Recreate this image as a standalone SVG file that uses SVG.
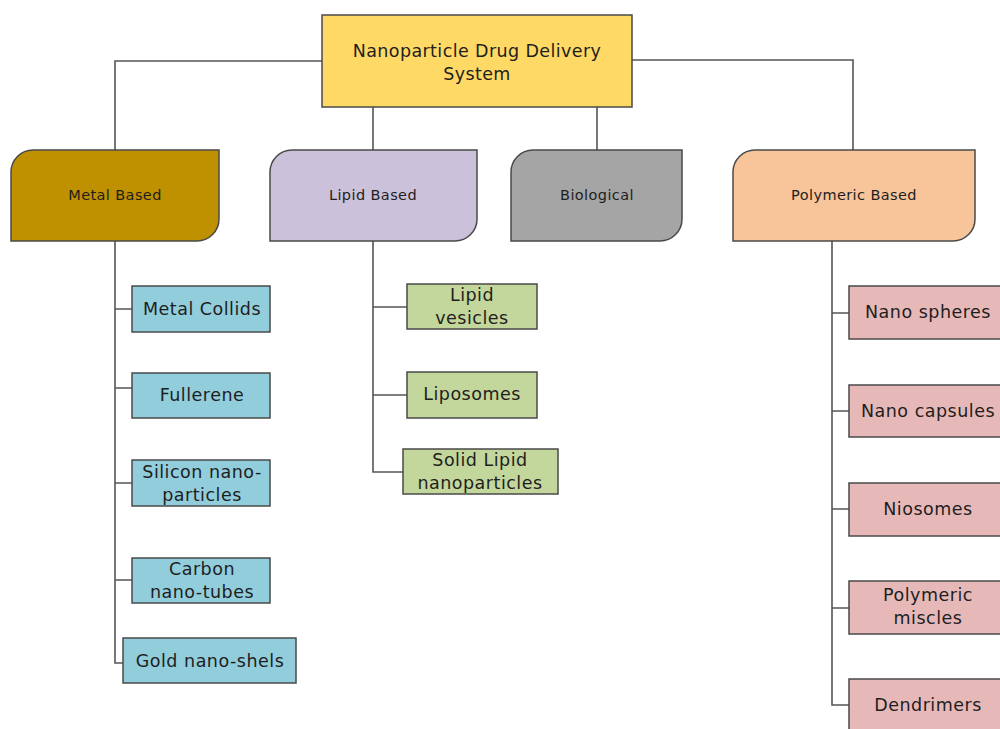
<svg xmlns="http://www.w3.org/2000/svg" width="1000" height="729" viewBox="0 0 1000 729">
<style>
text{font-family:"DejaVu Sans","Open Sans",sans-serif;fill:#1e1e1e;text-anchor:middle;dominant-baseline:central}
.cat{font-size:14.5px;letter-spacing:0.4px}
.root{font-size:17.5px;letter-spacing:0.4px}
.ch{font-size:17.5px;letter-spacing:0.5px}
.b{stroke:#4a4a4a;stroke-width:1.5}
.con{fill:none;stroke:#555;stroke-width:1.6}
</style>
<rect width="1000" height="729" fill="#fff"/>
<g id="connectors" class="con">
<path d="M322 61H115V150"/>
<path d="M632 60H853V150"/>
<path d="M373 107V150"/>
<path d="M597 107V150"/>
<path d="M115 241V663H123"/>
<path d="M115 309H132M115 388H132M115 483H132M115 580H132"/>
<path d="M373 241V472H403"/>
<path d="M373 307H407M373 395H407"/>
<path d="M832 241V705H849"/>
<path d="M832 313H849M832 411H849M832 509H849M832 608H849"/>
</g>
<g id="root"><rect class="b" x="322" y="15" width="310" height="92" fill="#FFD966"/><text class="root" x="477" y="51">Nanoparticle Drug Delivery</text><text class="root" x="477" y="74">System</text></g>
<g id="metal"><path class="b" d="M33 150H219V219A22 22 0 0 1 197 241H11V172A22 22 0 0 1 33 150Z" fill="#BF9000"/><text class="cat" x="115" y="195">Metal Based</text></g>
<g id="lipid"><path class="b" d="M292 150H477V219A22 22 0 0 1 455 241H270V172A22 22 0 0 1 292 150Z" fill="#CCC1DA"/><text class="cat" x="373" y="195">Lipid Based</text></g>
<g id="biological"><path class="b" d="M533 150H682V219A22 22 0 0 1 660 241H511V172A22 22 0 0 1 533 150Z" fill="#A5A5A5"/><text class="cat" x="597" y="195">Biological</text></g>
<g id="polymeric"><path class="b" d="M755 150H975V219A22 22 0 0 1 953 241H733V172A22 22 0 0 1 755 150Z" fill="#F8C49A"/><text class="cat" x="854" y="195">Polymeric Based</text></g>
<g id="metal-collids"><rect class="b" x="132" y="286" width="138" height="46" fill="#92CDDC"/><text class="ch" x="202" y="309">Metal Collids</text></g>
<g id="fullerene"><rect class="b" x="132" y="373" width="138" height="45" fill="#92CDDC"/><text class="ch" x="202" y="395">Fullerene</text></g>
<g id="silicon"><rect class="b" x="132" y="460" width="138" height="46" fill="#92CDDC"/><text class="ch" x="202" y="472">Silicon nano-</text><text class="ch" x="202" y="495">particles</text></g>
<g id="carbon"><rect class="b" x="132" y="558" width="138" height="45" fill="#92CDDC"/><text class="ch" x="202" y="569">Carbon</text><text class="ch" x="202" y="592">nano-tubes</text></g>
<g id="gold"><rect class="b" x="123" y="638" width="173" height="45" fill="#92CDDC"/><text class="ch" x="210" y="661">Gold nano-shels</text></g>
<g id="lipid-vesicles"><rect class="b" x="407" y="284" width="130" height="45" fill="#C3D69B"/><text class="ch" x="472" y="295">Lipid</text><text class="ch" x="472" y="318">vesicles</text></g>
<g id="liposomes"><rect class="b" x="407" y="372" width="130" height="46" fill="#C3D69B"/><text class="ch" x="472" y="394">Liposomes</text></g>
<g id="solid-lipid"><rect class="b" x="403" y="449" width="155" height="45" fill="#C3D69B"/><text class="ch" x="480" y="460">Solid Lipid</text><text class="ch" x="480" y="483">nanoparticles</text></g>
<g id="nano-spheres"><rect class="b" x="849" y="286" width="160" height="53" fill="#E6B9B8"/><text class="ch" x="928" y="312">Nano spheres</text></g>
<g id="nano-capsules"><rect class="b" x="849" y="385" width="160" height="52" fill="#E6B9B8"/><text class="ch" x="928" y="411">Nano capsules</text></g>
<g id="niosomes"><rect class="b" x="849" y="483" width="160" height="53" fill="#E6B9B8"/><text class="ch" x="928" y="509">Niosomes</text></g>
<g id="polymeric-miscles"><rect class="b" x="849" y="581" width="160" height="53" fill="#E6B9B8"/><text class="ch" x="928" y="595">Polymeric</text><text class="ch" x="928" y="618">miscles</text></g>
<g id="dendrimers"><rect class="b" x="849" y="679" width="160" height="60" fill="#E6B9B8"/><text class="ch" x="928" y="705">Dendrimers</text></g>
</svg>
